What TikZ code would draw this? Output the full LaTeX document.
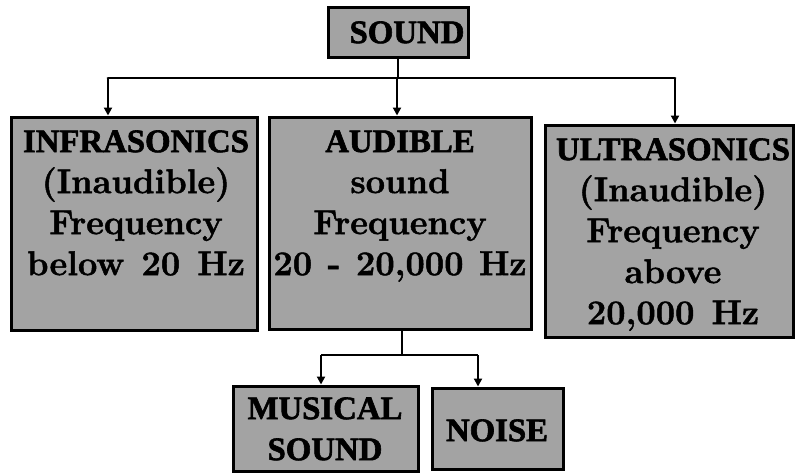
\documentclass[tikz,border=0pt]{standalone}
\usepackage{fontspec}
\setmainfont{Latin Modern Roman}[BoldFeatures={FakeBold=1.4}]
\newfontfamily\tms{Liberation Serif}[BoldFeatures={FakeBold=1.8}]
\usetikzlibrary{arrows.meta}
\definecolor{boxgray}{RGB}{163,163,163}
\newcommand{\capsz}{\fontsize{16.4}{20.5}\selectfont}
\begin{document}
\begin{tikzpicture}[x=0.5pt,y=-0.5pt]
\tikzset{
  box/.style={draw=black, line width=1.5pt, fill=boxgray, inner sep=0pt},
  txt/.style={align=center, inner sep=0pt, anchor=north, font=\fontsize{17.2}{20.5}\selectfont\bfseries},
  arr/.style={line width=1.4pt, -{Triangle[length=4pt,width=4pt]}},
  ln/.style={line width=1.4pt}
}
\useasboundingbox (0,0) rectangle (795,473);
% boxes
\node[box, minimum width=70pt, minimum height=25pt] (sound) at (398,32.5) {};
\node[box, minimum width=123pt, minimum height=106.5pt] (inf) at (134,223.5) {};
\node[box, minimum width=131pt, minimum height=106pt] (aud) at (400,223) {};
\node[box, minimum width=124pt, minimum height=106pt] (ult) at (669,231) {};
\node[box, minimum width=92.5pt, minimum height=42.5pt] (mus) at (325.5,428.5) {};
\node[box, minimum width=65.5pt, minimum height=40.5pt] (noi) at (497.5,428.5) {};
% texts
\node[txt] (tsound) at (407,21) {\tms\capsz SOUND};
\node[txt] (tinf) at (136,130) {{\tms\capsz INFRASONICS}\\(Inaudible)\\Frequency\\below\hspace{0.5em}20\hspace{0.5em}Hz};
\node[txt] (taud) at (400,130) {{\tms\capsz AUDIBLE}\\sound\\Frequency\\20\hspace{0.45em}-\hspace{0.45em}20,000\hspace{0.45em}Hz};
\node[txt] (tult) at (673,138) {{\tms\capsz ULTRASONICS}\\(Inaudible)\\Frequency\\above\\20,000\hspace{0.5em}Hz};
\node[txt] (tmus) at (325,397) {\tms\capsz MUSICAL\\\tms\capsz SOUND};
\node[txt] (tnoi) at (497,419) {\tms\capsz NOISE};
% connectors
\coordinate (j1) at (397,78);
\coordinate (jl) at (108,78);
\coordinate (jr) at (675,78);
\draw[ln] (sound.south) -- (sound.south |- j1);
\draw[ln, line cap=round] (jl) -- (jr);
\draw[arr] (jl) -- (jl |- inf.north);
\draw[arr] (j1) -- (j1 |- aud.north);
\draw[arr] (jr) -- (jr |- ult.north);
\coordinate (j2) at (402,355);
\coordinate (bl) at (321,355);
\coordinate (br) at (478,355);
\draw[ln] (aud.south -| j2) -- (j2);
\draw[ln] (bl) -- (br);
\draw[arr] (bl) -- (bl |- mus.north);
\draw[arr] (br) -- (br |- noi.north);
\end{tikzpicture}
\end{document}
